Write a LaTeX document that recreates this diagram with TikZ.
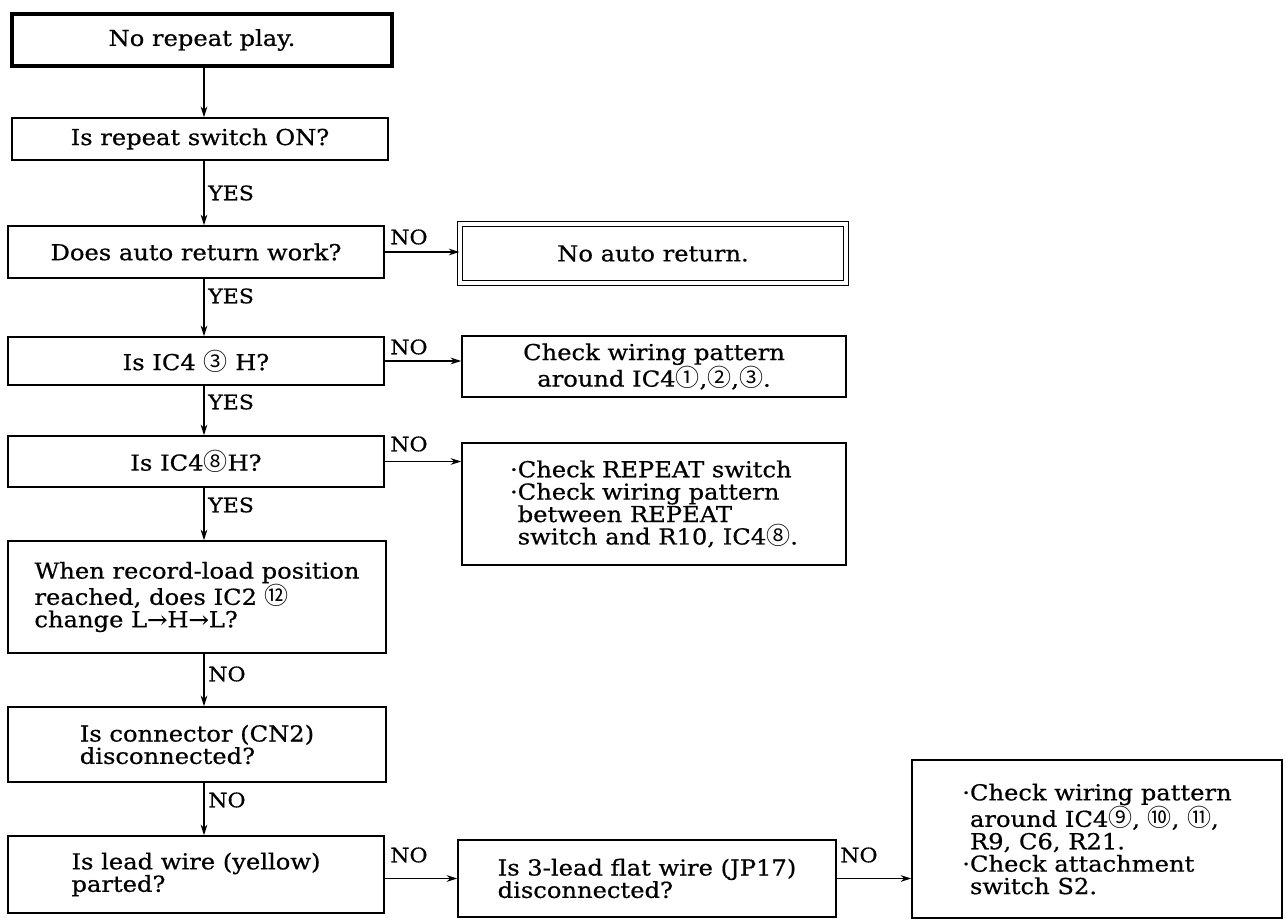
\documentclass[tikz,border=0pt]{standalone}
\usepackage{fontspec}
\setmainfont{DejaVu Serif}[FakeStretch=1.1,FakeBold=0.6]
\newfontfamily\cjk{Noto Sans CJK JP}
\usetikzlibrary{arrows.meta,calc}
\newcommand\cn[1]{{\cjk\fontsize{18}{15}\selectfont #1}}
\begin{document}
\begin{tikzpicture}[x=0.75pt,y=-0.75pt,
  box/.style={draw,line width=1.1pt,align=left,inner sep=0pt,font=\fontsize{16.5}{16.8}\selectfont},
  lab/.style={font=\fontsize{15}{15}\selectfont,inner sep=0pt,anchor=west},
  arr/.style={-{Stealth[length=8pt,width=5pt]},line width=0.9pt}]
\useasboundingbox[fill=white] (0,0) rectangle (1286,920);
\coordinate (ax) at (204,0);
% left column
\node[box,line width=3pt,minimum width=380*0.75pt,minimum height=52*0.75pt] (b1) at (202,40) {No repeat play.};
\node[box,minimum width=376*0.75pt,minimum height=42*0.75pt] (b2) at (200,139) {Is repeat switch ON?};
\node[box,minimum width=376*0.75pt,minimum height=52*0.75pt] (b3) at (196,252) {Does auto return work?};
\node[box,minimum width=376*0.75pt,minimum height=48*0.75pt] (b4) at (196,361) {Is IC4 \cn{③} H?};
\node[box,minimum width=376*0.75pt,minimum height=51*0.75pt] (b5) at (196,461.5) {Is IC4\cn{⑧}H?};
\node[box,minimum width=378*0.75pt,minimum height=112*0.75pt] (b6) at (197,597) {When record-load position\\reached, does IC2 \cn{⑫}\\change L→H→L?};
\node[box,minimum width=378*0.75pt,minimum height=75*0.75pt] (b7) at (197,744.5) {Is connector (CN2)\\disconnected?};
\node[box,minimum width=376*0.75pt,minimum height=77*0.75pt] (b8) at (196,874.5) {Is lead wire (yellow)\\parted?};
% right column
\node[box,double,double distance=3pt,line width=0.8pt,minimum width=386*0.75pt,minimum height=59*0.75pt] (r3) at (653,253.5) {No auto return.};
\node[box,align=center,minimum width=384*0.75pt,minimum height=61*0.75pt] (r4) at (654,366.5) {Check wiring pattern\\around IC4\cn{①},\cn{②},\cn{③}.};
\node[box,minimum width=384*0.75pt,minimum height=122*0.75pt] (r5) at (654,504) {·Check REPEAT switch\\·Check wiring pattern\\\phantom{·}between REPEAT\\\phantom{·}switch and R10, IC4\cn{⑧}.};
\node[box,minimum width=378*0.75pt,minimum height=77*0.75pt] (b9) at (647,878.5) {Is 3-lead flat wire (JP17)\\disconnected?};
\node[box,minimum width=370*0.75pt,minimum height=158*0.75pt] (b10) at (1097,839) {·Check wiring pattern\\\phantom{·}around IC4\cn{⑨}, \cn{⑩}, \cn{⑪},\\\phantom{·}R9, C6, R21.\\·Check attachment\\\phantom{·}switch S2.};
% vertical connectors
\draw[arr] (b1.south -| ax) -- (b2.north -| ax);
\draw[arr] (b2.south -| ax) -- (b3.north -| ax);
\draw[arr] (b3.south -| ax) -- (b4.north -| ax);
\draw[arr] (b4.south -| ax) -- (b5.north -| ax);
\draw[arr] (b5.south -| ax) -- (b6.north -| ax);
\draw[arr] (b6.south -| ax) -- (b7.north -| ax);
\draw[arr] (b7.south -| ax) -- (b8.north -| ax);
% horizontal connectors
\draw[arr] (b3.east) -- (b3.east -| r3.west);
\draw[arr] (b4.east) -- (b4.east -| r4.west);
\draw[arr] (b5.east) -- (b5.east -| r5.west);
\draw[arr] (b8.east |- b9.west) -- (b9.west);
\draw[arr] (b9.east) -- (b9.east -| b10.west);
% labels
\node[lab] (l1) at (208,193) {YES};
\node[lab] (l2) at (208,296) {YES};
\node[lab] (l3) at (208,402) {YES};
\node[lab] (l4) at (208,505) {YES};
\node[lab] (l5) at (208,674) {NO};
\node[lab] (l6) at (208,800) {NO};
\node[lab] (l7) at (390,237) {NO};
\node[lab] (l8) at (390,347) {NO};
\node[lab] (l9) at (390,444) {NO};
\node[lab] (l10) at (390,855) {NO};
\node[lab] (l11) at (840,855) {NO};
\end{tikzpicture}
\end{document}
